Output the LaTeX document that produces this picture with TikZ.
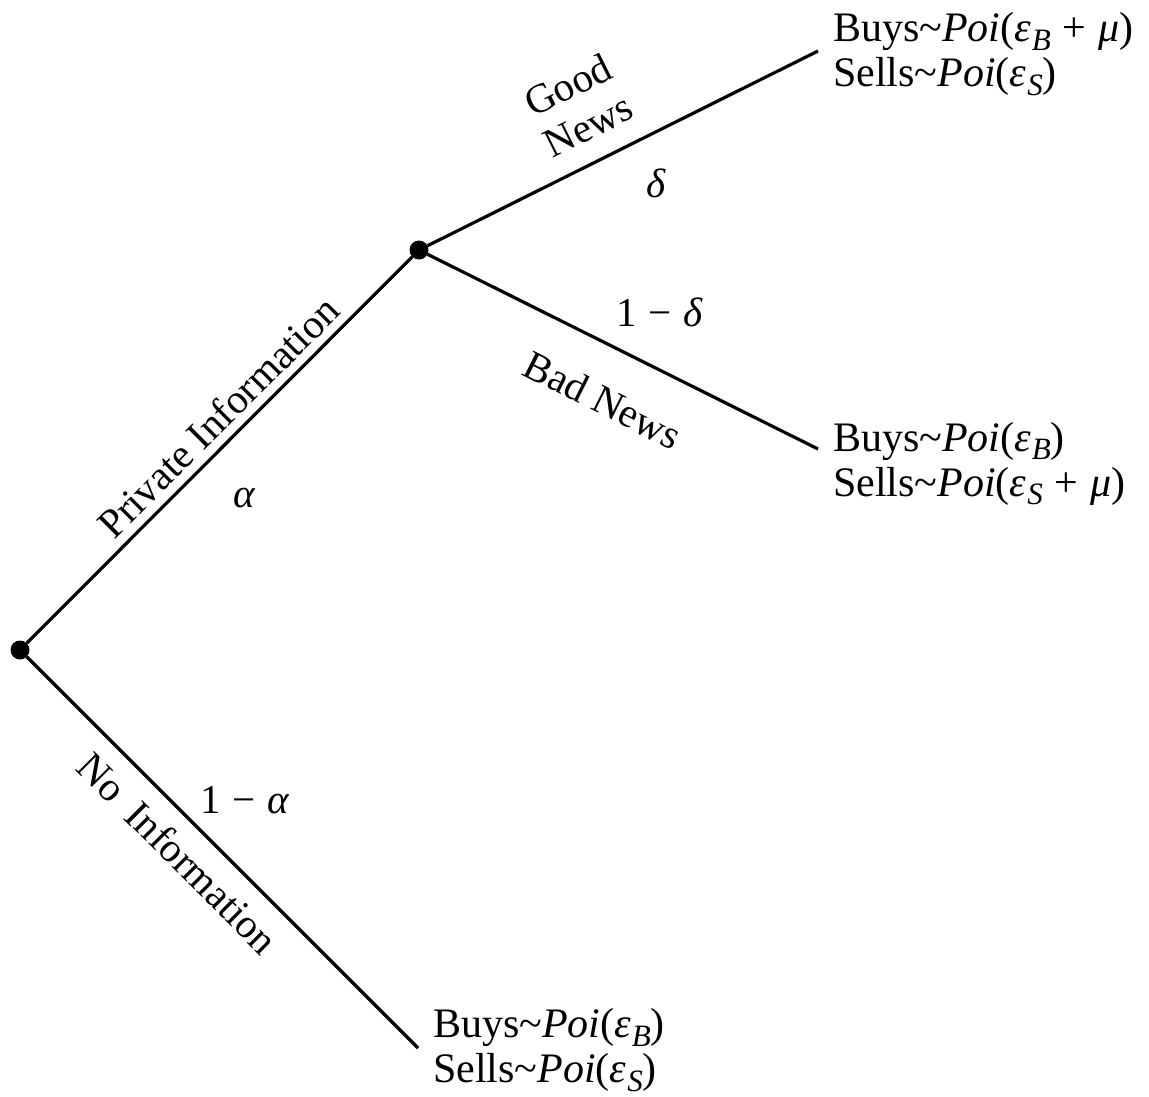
\documentclass[tikz,border=0pt]{standalone}
\usepackage{fontspec}
\usepackage{graphicx}
\setmainfont{Liberation Serif}
\newcommand\Poi{\textit{Poi}}
\newcommand\subs[1]{\raisebox{-0.2em}{\scalebox{0.74}{\textit{#1}}}}
\newcommand\epsv[1]{\textit{ε}\hspace{0.02em}\subs{#1}}
\newcommand\tld{\char"007E\relax}
\newcommand\bop[1]{\hspace{0.28em}#1\hspace{0.28em}}
\begin{document}
\begin{tikzpicture}[x=1pt,y=-1pt,
  dot/.style={circle,fill=black,inner sep=0pt,minimum size=19pt},
  branch/.style={line width=3.2pt},
  lbl/.style={inner sep=0pt,font=\fontsize{41}{45}\selectfont},
  leaf/.style={lbl,align=left,anchor=west,font=\fontsize{42}{45}\selectfont}]
\useasboundingbox (0,0) rectangle (1149,1096);
\node[dot] (r) at (20,650) {};
\node[dot] (m) at (419,250) {};
\coordinate (g) at (818,51);
\coordinate (b) at (818,449);
\coordinate (n) at (418,1048);
\draw[branch] (r) -- (m);
\draw[branch] (m) -- (g);
\draw[branch] (m) -- (b);
\draw[branch] (r) -- (n);
\node[leaf] (gt) at (833,54) {Buys\tld\Poi(\epsv{B}\bop{+}\textit{μ})\\Sells\tld\Poi(\epsv{S})};
\node[leaf] (bt) at (833,464) {Buys\tld\Poi(\epsv{B})\\Sells\tld\Poi(\epsv{S}\bop{+}\textit{μ})};
\node[leaf] (nt) at (433,1050) {Buys\tld\Poi(\epsv{B})\\Sells\tld\Poi(\epsv{S})};
\node[lbl,rotate=45] (pi) at (218,417) {Private Information};
\node[lbl,rotate=-45] (ni) at (178,853) {No\hspace{0.2em} Information};
\node[lbl,rotate=26.6,align=center] (gn) at (578,105) {Good\\News};
\node[lbl,rotate=-26.6] (bn) at (603,400) {Bad News};
\node[lbl] (al) at (245,498) {\textit{α}};
\node[lbl] (nal) at (245,800) {1\bop{−}\textit{α}};
\node[lbl] (de) at (656,183) {\textit{δ}};
\node[lbl] (nde) at (660,312) {1\bop{−}\textit{δ}};
\end{tikzpicture}
\end{document}
